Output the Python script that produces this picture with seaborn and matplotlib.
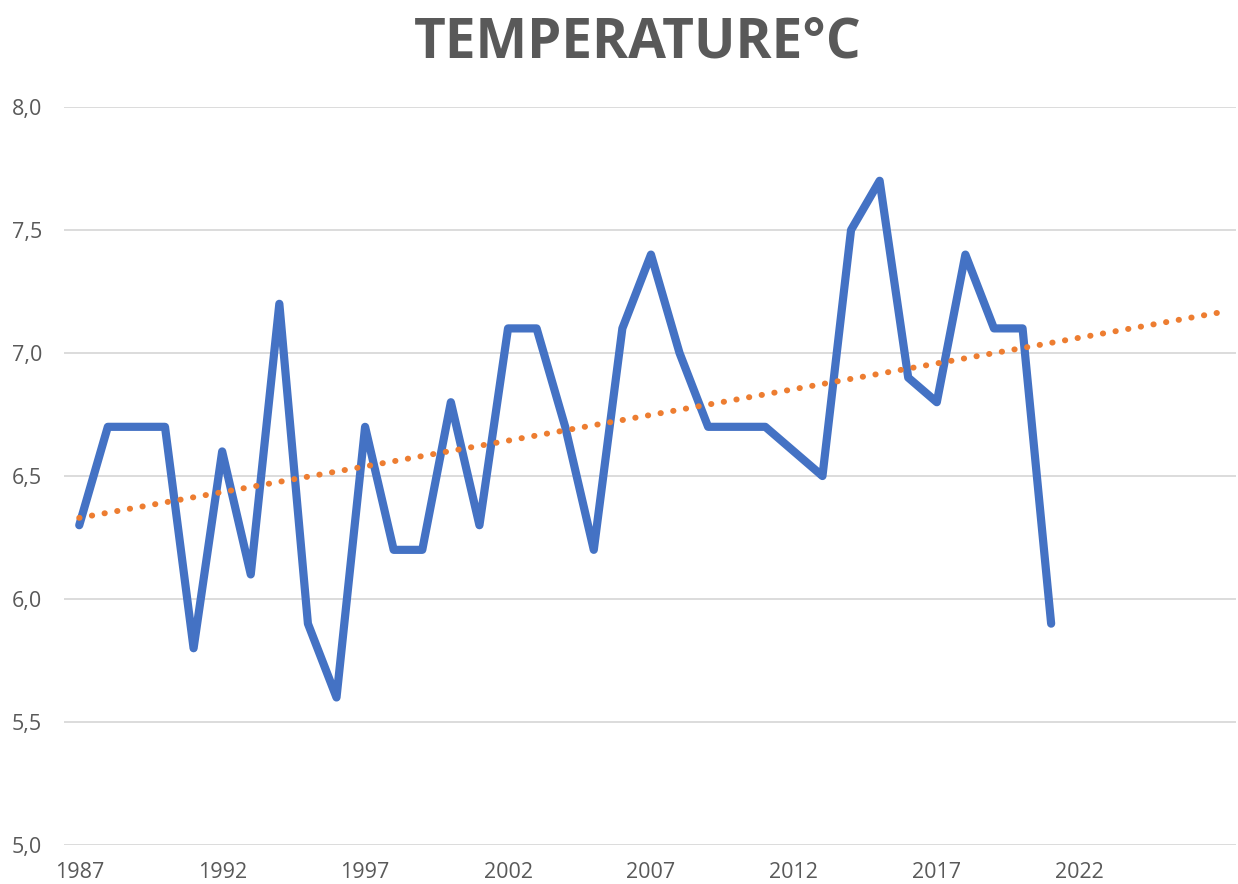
import numpy as np
import pandas as pd
import matplotlib
matplotlib.use('Agg')
import matplotlib.pyplot as plt
import seaborn as sns

# Yearly mean temperature values
years = list(range(1987, 2022))
temps = [6.3, 6.7, 6.7, 6.7, 5.8, 6.6, 6.1, 7.2, 5.9, 5.6,
         6.7, 6.2, 6.2, 6.8, 6.3, 7.1, 7.1, 6.7, 6.2, 7.1,
         7.4, 7.0, 6.7, 6.7, 6.7, 6.6, 6.5, 7.5, 7.7, 6.9,
         6.8, 7.4, 7.1, 7.1, 5.9]
x_ticks = [1987, 1992, 1997, 2002, 2007, 2012, 2017, 2022]
y_ticks = [5.0, 5.5, 6.0, 6.5, 7.0, 7.5, 8.0]
trend_end = 2027

df = pd.DataFrame({'year': years, 'temp': temps})

# Linear trendline fitted to the data, extended to 2027
slope, icpt = np.polyfit(df['year'], df['temp'], 1)
trend = pd.DataFrame({'year': [years[0], trend_end]})
trend['temp'] = slope * trend['year'] + icpt

sns.set_theme(style='white')
plt.rcParams['font.family'] = ['Open Sans', 'DejaVu Sans']

fig = plt.figure(figsize=(12.38, 8.84), dpi=100)
ax = fig.add_axes([0.052, 0.044, 0.946, 0.835])

grey = '#595959'
for y in y_ticks:
    ax.axhline(y, color='#d9d9d9', lw=1.3, zorder=0)

sns.lineplot(data=df, x='year', y='temp', ax=ax, color='#4472C4', lw=5.9,
             solid_joinstyle='round', solid_capstyle='round', zorder=3)
sns.lineplot(data=trend, x='year', y='temp', ax=ax, color='#ED7D31', lw=4.3,
             linestyle=(0, (0.05, 2.1)), dash_capstyle='round', zorder=4)

ax.set_xlim(1986.48, 2027.45)
ax.set_ylim(5.0, 8.0)
ax.set_xticks(x_ticks)
ax.set_yticks(y_ticks)
ax.set_yticklabels([f'{v:.1f}'.replace('.', ',') for v in y_ticks])
ax.tick_params(axis='both', colors=grey, labelsize=15.5, length=0)
ax.tick_params(axis='x', pad=12)
ax.tick_params(axis='y', pad=16)
for s in ax.spines.values():
    s.set_visible(False)
ax.set_xlabel('')
ax.set_ylabel('')

fig.text(0.515, 0.983, 'TEMPERATURE°C', ha='center', va='top', fontsize=39.5,
         fontweight='bold', color=grey)

fig.savefig('out.png', dpi=100)
